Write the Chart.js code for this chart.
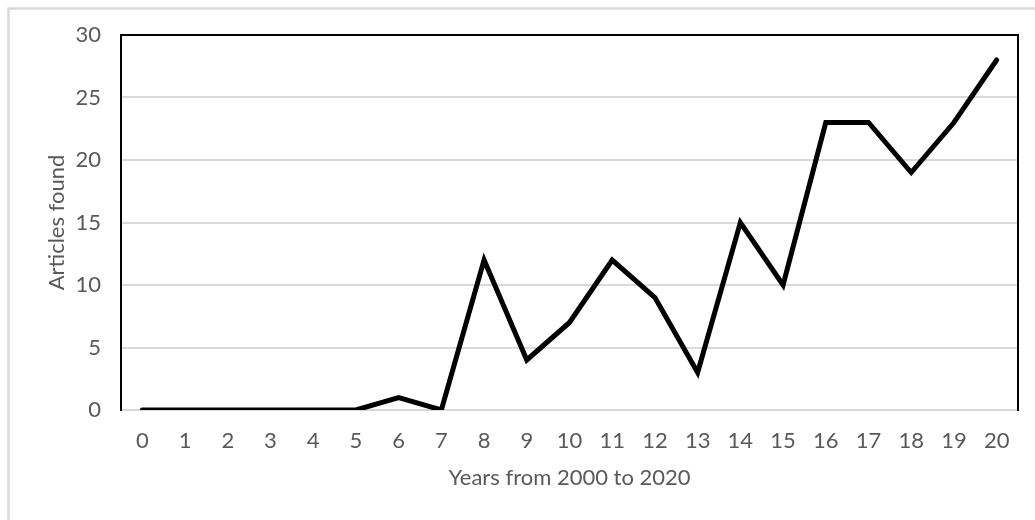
<!DOCTYPE html>
<html>
<head>
<meta charset="utf-8">
<script src="https://cdn.jsdelivr.net/npm/chart.js@4/dist/chart.umd.min.js"></script>
<style>
  html, body { margin: 0; padding: 0; background: #ffffff; }
  #wrap { width: 1035px; height: 520px; }
</style>
</head>
<body>
<div id="wrap"><canvas id="c" width="1035" height="520"></canvas></div>
<script>
// Years counted from 2000 and the number of articles found in each
const years = ['0','1','2','3','4','5','6','7','8','9','10','11','12','13','14','15','16','17','18','19','20'];
const articles = [0, 0, 0, 0, 0, 0, 1, 0, 12, 4, 7, 12, 9, 3, 15, 10, 23, 23, 19, 23, 28];
const yTicks = [0, 5, 10, 15, 20, 25, 30];

const textColor = '#595959';
const gridColor = '#d9d9d9';
const fontFamily = 'Lato, "Open Sans", sans-serif';
const fontSize = 22;

// Light outer frame of the chart object and black frame around the plot area
const framePlugin = {
  id: 'frames',
  beforeDraw(chart) {
    const ctx = chart.ctx;
    ctx.save();
    ctx.fillStyle = '#ffffff';
    ctx.fillRect(0, 0, chart.width, chart.height);
    ctx.strokeStyle = gridColor;
    ctx.lineWidth = 2.5;
    ctx.beginPath();
    ctx.moveTo(8.5, chart.height + 5);
    ctx.lineTo(8.5, 8.5);
    ctx.lineTo(chart.width + 5, 8.5);
    ctx.stroke();
    ctx.restore();
  },
  beforeDatasetsDraw(chart) {
    const a = chart.chartArea;
    const ctx = chart.ctx;
    ctx.save();
    ctx.strokeStyle = '#000000';
    ctx.lineWidth = 2;
    ctx.beginPath();
    ctx.moveTo(a.left, a.bottom + 1);
    ctx.lineTo(a.left, a.top);
    ctx.lineTo(a.right, a.top);
    ctx.lineTo(a.right, a.bottom + 1);
    ctx.stroke();
    ctx.strokeStyle = gridColor;
    ctx.beginPath();
    ctx.moveTo(a.left + 1, a.bottom);
    ctx.lineTo(a.right - 1, a.bottom);
    ctx.stroke();
    ctx.restore();
  }
};

new Chart(document.getElementById('c'), {
  type: 'line',
  data: {
    labels: years,
    datasets: [{
      data: articles,
      borderColor: '#000000',
      borderWidth: 5,
      borderCapStyle: 'round',
      borderJoinStyle: 'miter',
      pointRadius: 0,
      pointHoverRadius: 0,
      tension: 0,
      fill: false
    }]
  },
  options: {
    responsive: false,
    animation: false,
    devicePixelRatio: 1,
    layout: { padding: { top: 35, right: 17, bottom: 0, left: 0 } },
    plugins: {
      legend: { display: false },
      tooltip: { enabled: false }
    },
    scales: {
      x: {
        offset: true,
        grid: { display: false, drawTicks: false },
        border: { display: false },
        ticks: {
          color: textColor,
          font: { family: fontFamily, size: fontSize },
          padding: 18,
          maxRotation: 0,
          autoSkip: false
        },
        title: {
          display: true,
          text: 'Years from 2000 to 2020',
          color: textColor,
          font: { family: fontFamily, size: fontSize },
          padding: { top: 0, bottom: 29 }
        },
        afterFit(scale) { scale.height = 110; }
      },
      y: {
        min: 0,
        max: 30,
        afterBuildTicks(scale) { scale.ticks = yTicks.map(v => ({ value: v })); },
        grid: { color: gridColor, lineWidth: 2, drawTicks: false },
        border: { display: false },
        ticks: {
          color: textColor,
          font: { family: fontFamily, size: fontSize },
          padding: 20
        },
        title: {
          display: true,
          text: 'Articles found',
          color: textColor,
          font: { family: fontFamily, size: fontSize },
          padding: { top: 44, bottom: 0 }
        },
        afterFit(scale) { scale.width = 121; }
      }
    }
  },
  plugins: [framePlugin]
});
</script>
</body>
</html>
